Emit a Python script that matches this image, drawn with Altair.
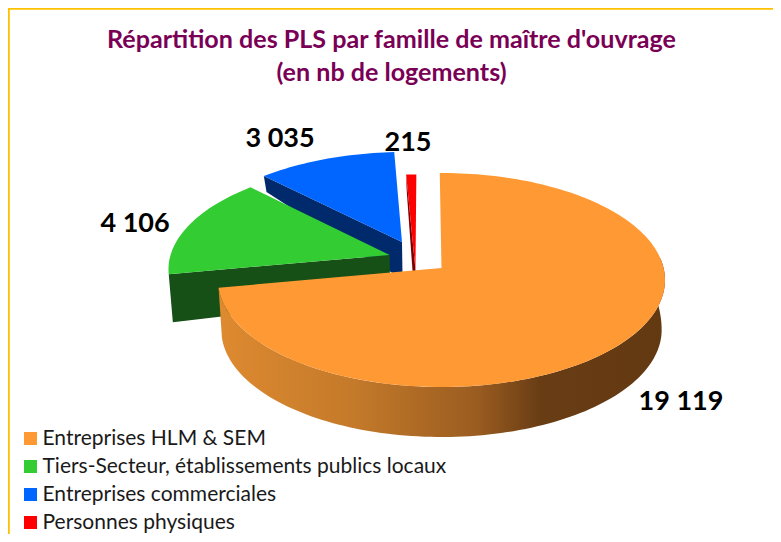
import math
import altair as alt
import pandas as pd

categories = ["Entreprises HLM & SEM", "Tiers-Secteur, établissements publics locaux",
              "Entreprises commerciales", "Personnes physiques"]
values = [19119, 4106, 3035, 215]
value_labels = ["19 119", "4 106", "3 035", "215"]
top_colors = ["#FF9933", "#33CC33", "#0066FF", "#FF0000"]
wall_colors = [None, "#165016", "#002A6B", "#7A0000"]

FONT = "Lato"
CX, CY, RX, RY, K = 441.5, 280.0, 223.5, 107.0, 0.112
ROT = -0.5
EXPLODE = [(0.0, 0.0), (-0.237, 0.125), (-0.183, 0.253), (-0.117, -0.017)]


def project(x, y):
    den = 1 + K * y
    u = x * math.sqrt(1 - K * K) / den
    v = (y + K) / den
    return CX + RX * u, CY - RY * v, v


def on_disk(a, r, shift):
    rad = math.radians(a + ROT)
    return r * math.sin(rad) + shift[0], r * math.cos(rad) + shift[1]


def top_pt(a, r, shift):
    return project(*on_disk(a, r, shift))[:2]


def low_pt(a, r, shift):
    px, py, v = project(*on_disk(a, r, shift))
    depth = min(50.0, 50.0 - 35.0 * v)
    return CX + (px - CX) * 0.985, py + depth


def arc(a0, a1, shift, fn):
    n = max(2, int(abs(a1 - a0) / 1.5))
    return [fn(a0 + (a1 - a0) * j / n, 1.0, shift) for j in range(n + 1)]


total = sum(values)
bounds = [0.0]
for val in values:
    bounds.append(bounds[-1] + 360.0 * val / total)


def rows(points):
    return pd.DataFrame([{"x": p[0], "y": p[1], "i": j} for j, p in enumerate(points)])


X = alt.X("x:Q", scale=alt.Scale(domain=[8, 773], nice=False, zero=False), axis=None)
Y = alt.Y("y:Q", scale=alt.Scale(domain=[534, 8], nice=False, zero=False), axis=None)
ORDER = alt.Order("i:Q")
COLOR = alt.Color(
    "cat:N",
    scale=alt.Scale(domain=categories, range=top_colors),
    sort=categories,
    legend=alt.Legend(
        title=None, orient="none", legendX=12, legendY=420, symbolType="square",
        symbolSize=169, symbolStrokeWidth=0, labelFont=FONT, labelFontSize=21,
        labelColor="#1a1a1a", labelLimit=600, rowPadding=6, labelOffset=1.5, columns=1,
    ),
)


def top_layer(i):
    a0, a1 = bounds[i], bounds[i + 1]
    s = EXPLODE[i]
    pts = [top_pt(0, 0, s)] + arc(a0, a1, s, top_pt)
    df = rows(pts)
    df["cat"] = categories[i]
    return alt.Chart(df).mark_line(filled=True, strokeWidth=0).encode(x=X, y=Y, order=ORDER, color=COLOR)


def wall(points, fill):
    return alt.Chart(rows(points)).mark_line(filled=True, fill=fill, stroke=None, strokeWidth=0).encode(x=X, y=Y, order=ORDER)


def edge_wall(i, a):
    s = EXPLODE[i]
    return wall([top_pt(a, 1, s), low_pt(a, 1, s), low_pt(0, 0, s), top_pt(0, 0, s)], wall_colors[i])


orange_gradient = alt.Gradient(
    gradient="linear", x1=0, x2=1, y1=0, y2=0,
    stops=[
        alt.GradientStop(offset=0.0, color="#DE8A30"),
        alt.GradientStop(offset=0.3, color="#C47A2A"),
        alt.GradientStop(offset=0.58, color="#9A5C20"),
        alt.GradientStop(offset=0.72, color="#693D14"),
        alt.GradientStop(offset=1.0, color="#633912"),
    ],
)
o_end = bounds[1]
orange_wall_pts = arc(85, o_end, EXPLODE[0], top_pt) + arc(o_end, 85, EXPLODE[0], low_pt)

layers = [
    edge_wall(2, bounds[2]), top_layer(2),
    edge_wall(3, bounds[3]), top_layer(3),
    edge_wall(1, bounds[1]), top_layer(1),
    edge_wall(0, 360.0),
    wall(orange_wall_pts, orange_gradient), top_layer(0),
]

frame = alt.Chart(pd.DataFrame({"k": [0]}))
layers.append(frame.mark_rule(color="#FFC000", strokeWidth=2).encode(
    x=alt.value(0.8), y=alt.value(0), y2=alt.value(526)))
layers.append(frame.mark_rule(color="#FFC000", strokeWidth=2).encode(
    x=alt.value(0), x2=alt.value(765), y=alt.value(0.8)))

label_px = [(673, 394), (127, 215.5), (272, 131), (400, 135)]
for text, (lx, ly) in zip(value_labels, label_px):
    layers.append(
        alt.Chart(pd.DataFrame({"t": [text]}))
        .mark_text(font=FONT, fontWeight="bold", fontSize=27, color="#000000", align="center", baseline="middle", x=lx, y=ly)
        .encode(text="t:N")
    )

chart = alt.layer(*layers).properties(
    width=765, height=526,
    autosize=alt.AutoSizeParams(type="none"), padding=0, background="white",
    title=alt.TitleParams(
        text=["Répartition des PLS par famille de maître d'ouvrage", "(en nb de logements)"],
        font=FONT, fontSize=25.1, fontWeight="bold", color="#7A0056", anchor="middle",
        lineHeight=33, dy=83, dx=1, frame="group",
    ),
).configure_view(stroke=None)

chart.save("out.html", embed_options={"renderer": "svg", "actions": False})
